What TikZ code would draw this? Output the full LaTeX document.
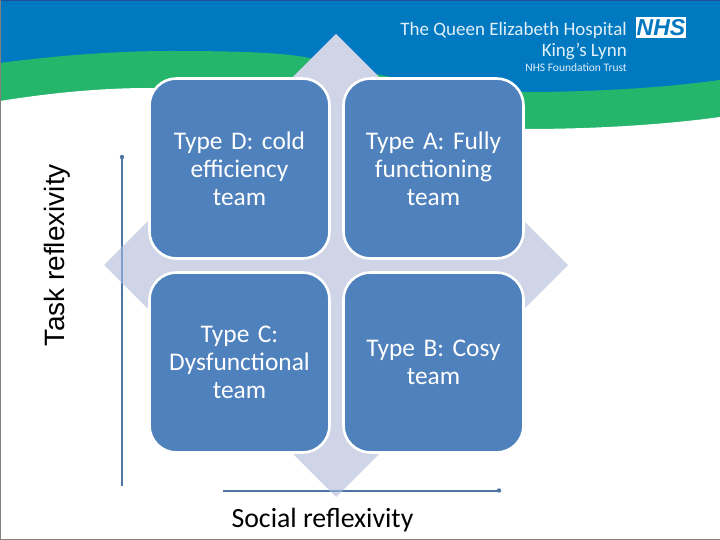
\documentclass[tikz,border=0pt]{standalone}
\usepackage{fontspec}
\setmainfont{Carlito}
\newfontfamily\arialf{Liberation Sans}
\definecolor{hblue}{HTML}{0079C1}
\definecolor{hdark}{HTML}{1F4E96}
\definecolor{hgreen}{HTML}{25B56B}
\definecolor{diam}{HTML}{CFD5E6}
\definecolor{boxb}{HTML}{4F81BD}
\definecolor{axisb}{HTML}{4F76A3}
\definecolor{axisl}{HTML}{7C9FCB}
\begin{document}
\begin{tikzpicture}[x=1pt,y=-1pt,
  team/.style={draw=white,line width=2.6pt,fill=boxb,rounded corners=27pt,minimum width=180pt,minimum height=180pt,inner sep=0pt,text=white,align=center,font=\fontsize{25.4}{28}\selectfont,text width=170pt},
  axis/.style={line width=2pt},
  hosp/.style={text=white!88!hblue,inner sep=0pt,anchor=east}]
\useasboundingbox (0,0) rectangle (720,540);
\fill[white] (0,0) rectangle (720,540);
% header
\fill[hblue] (0,0) rectangle (720,100);
\fill[hgreen] (0,63) .. controls (60,55) and (120,51) .. (170,51) .. controls (230,51) and (280,52) .. (310,58) .. controls (380,76) and (450,92) .. (525,92) .. controls (600,92) and (670,87) .. (720,80) -- (720,140) -- (0,140) -- cycle;
\fill[white] (0,101) .. controls (50,93) and (100,88) .. (150,88) .. controls (280,88) and (380,129) .. (525,129) .. controls (600,129) and (670,124) .. (720,117) -- (720,150) -- (0,150) -- cycle;
\fill[hdark] (0,0) rectangle (720,1.5);
\draw[gray,line width=1pt] (0.5,0) -- (0.5,540) (0,539.5) -- (720,539.5);
% axes
\coordinate (yt) at (122,157);
\coordinate (yb) at (122,486);
\coordinate (xl) at (223,490.5);
\coordinate (xr) at (499,490.5);
\draw[axis,draw=axisb] (yb) -- (yt);
\fill[axisb] (yt) circle (2.2pt);
\draw[axis,draw=axisb] (xl) -- (xr);
\fill[axisb] (xr) circle (2.2pt);
% diamond
\fill[diam] (336,34) -- (568,265) -- (336,497) -- (104,265) -- cycle;
\begin{scope}
\clip (336,34) -- (568,265) -- (336,497) -- (104,265) -- cycle;
\draw[axis,draw=axisl] (yb) -- (yt);
\draw[axis,draw=axisl] (xl) -- (xr);
\end{scope}
% boxes
\node[team] (d) at (239.5,168.5) {Type D: cold\\efficiency\\team};
\node[team] (a) at (433.5,168.5) {Type A: Fully\\functioning\\team};
\node[team] (c) at (239.5,362.5) {Type C:\\Dysfunctional\\team};
\node[team] (b) at (433.5,362.5) {Type B: Cosy\\team};
% labels
\node[rotate=90,font=\arialf\fontsize{28}{30}\selectfont,inner sep=0pt] (ty) at (57,255) {Task reflexivity};
\node[font=\fontsize{27.8}{30}\selectfont,inner sep=0pt] (sx) at (322.5,520) {Social reflexivity};
% logo text
\node[hosp,font=\fontsize{19}{20}\selectfont] (h1) at (627,30) {The Queen Elizabeth Hospital};
\node[hosp,font=\fontsize{19}{20}\selectfont] (h2) at (627,51) {King’s Lynn};
\node[hosp,font=\fontsize{11.5}{12}\selectfont] (h3) at (627,68) {NHS Foundation Trust};
\node[fill=white,text=hblue,inner sep=0pt,minimum width=50pt,minimum height=21pt,font=\arialf\bfseries\itshape\fontsize{23}{21}\selectfont] (nhs) at (661,27.5) {NHS};
\end{tikzpicture}
\end{document}
